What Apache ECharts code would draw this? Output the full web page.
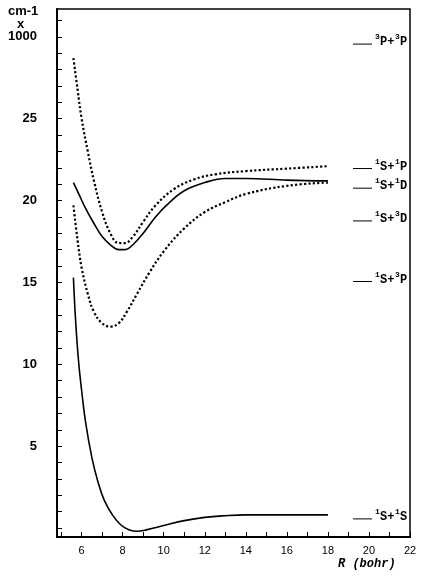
<!DOCTYPE html>
<html><head><meta charset="utf-8">
<script src="https://cdn.jsdelivr.net/npm/echarts@6/dist/echarts.min.js"></script>
<style>html,body{margin:0;background:#fff}#c{width:425px;height:580px}</style>
</head><body><div id="c"></div>
<script>
const xP1 = [5.6,5.8,6,6.3,6.6,7,7.4,7.8,8.1,8.5,9,9.6,10.5,11.5,12.5,14,16,18];
const yP1 = [28.7,26.8,25.0,23.0,21.2,19.3,18.0,17.4,17.4,17.8,18.7,19.7,20.7,21.3,21.6,21.8,21.95,22.1];
const xD1 = [5.6,5.9,6.2,6.6,7,7.4,7.8,8.1,8.5,9,9.6,10.3,11,12,13,14,16,18];
const yD1 = [21.1,20.3,19.5,18.6,17.8,17.3,17.0,17.0,17.3,18.0,19.0,19.9,20.6,21.1,21.35,21.35,21.25,21.2];
const xD3 = [5.6,5.8,6,6.3,6.6,7,7.4,7.8,8.2,8.7,9.3,10,11,12,13,14,16,18];
const yD3 = [19.7,17.6,15.9,14.3,13.2,12.5,12.3,12.5,13.2,14.3,15.6,16.9,18.3,19.3,19.9,20.4,20.9,21.1];
const xS  = [5.6,5.7,5.85,6,6.2,6.5,6.8,7.1,7.5,7.9,8.3,8.7,9.2,10,11,12,13,14,16,18];
const yS  = [15.3,12.8,10.2,8.4,6.4,4.3,2.8,1.7,0.8,0.2,-0.1,-0.2,-0.1,0.15,0.45,0.65,0.75,0.8,0.8,0.8];
const xTickLabels = [6,8,10,12,14,16,18,20,22];
const yTickLabels = [5,10,15,20,25,30];
const levelNames = [["3","P","3","P"],["1","S","1","P"],["1","S","1","D"],["1","S","3","D"],["1","S","3","P"],["1","S","1","S"]];
const levelValues = [29.8,22.2,21.0,19.0,15.3,0.8];
const zip=(a,b)=>a.map((v,i)=>[v,b[i]]);
const ch = echarts.init(document.getElementById('c'));
const minorX=[];for(let v=5;v<=22;v++)minorX.push(v);
const minorY=[];for(let v=0;v<=31;v++)minorY.push(v);
const ln=(d,type)=>({type:'line',data:d,smooth:0.4,showSymbol:false,lineStyle:{color:'#000',width:type==='dotted'?2.2:1.6,type:type},animation:false});
ch.setOption({
 animation:false,
 grid:{left:57,right:15,top:9,bottom:43},
 xAxis:{type:'value',min:4.8,max:22,
  axisLine:{onZero:false,lineStyle:{color:'#000',width:2}},
  axisTick:{inside:true,length:5,customValues:minorX,lineStyle:{color:'#000'}},
  axisLabel:{customValues:xTickLabels,color:'#000',fontSize:11,fontFamily:'Liberation Sans'},
  splitLine:{show:false}},
 yAxis:{type:'value',min:-0.55,max:31.7,
  axisLine:{show:true,onZero:false,lineStyle:{color:'#000',width:2}},
  axisTick:{inside:true,length:5,customValues:minorY,lineStyle:{color:'#000'}},
  axisLabel:{customValues:yTickLabels,color:'#000',fontSize:13,fontWeight:'bold',fontFamily:'Liberation Sans',margin:20,
   formatter:v=>v===30?'1000':String(v)},
  splitLine:{show:false}},
 series:[ln(zip(xP1,yP1),'dotted'),ln(zip(xD1,yD1),'solid'),ln(zip(xD3,yD3),'dotted'),ln(zip(xS,yS),'solid')]
});
const g=[{type:'rect',shape:{x:57,y:9,width:353,height:528},style:{fill:'none',stroke:'#000',lineWidth:1.5},silent:true},
 {type:'text',x:8,y:5,style:{text:'cm-1',font:'bold 13px Liberation Sans',fill:'#000'}},
 {type:'text',x:17,y:18,style:{text:'x',font:'bold 13px Liberation Sans',fill:'#000'}},
 {type:'text',x:338,y:558,style:{text:'R (bohr)',font:'italic bold 12px Liberation Mono',fill:'#000'}}];
levelValues.forEach((v,i)=>{
 const y=ch.convertToPixel({yAxisIndex:0},v);
 const n=levelNames[i];
 g.push({type:'line',shape:{x1:353,y1:y+4,x2:372,y2:y+4},style:{stroke:'#000',lineWidth:1}});
 const f8='bold 8px Liberation Mono', f12='bold 12px Liberation Mono';
 g.push({type:'text',x:375,y:y-7,style:{text:n[0],font:f8,fill:'#000'}});
 g.push({type:'text',x:380,y:y-4,style:{text:n[1]+'+',font:f12,fill:'#000'}});
 g.push({type:'text',x:395,y:y-7,style:{text:n[2],font:f8,fill:'#000'}});
 g.push({type:'text',x:400,y:y-4,style:{text:n[3],font:f12,fill:'#000'}});
});
ch.setOption({graphic:g});
</script></body></html>
